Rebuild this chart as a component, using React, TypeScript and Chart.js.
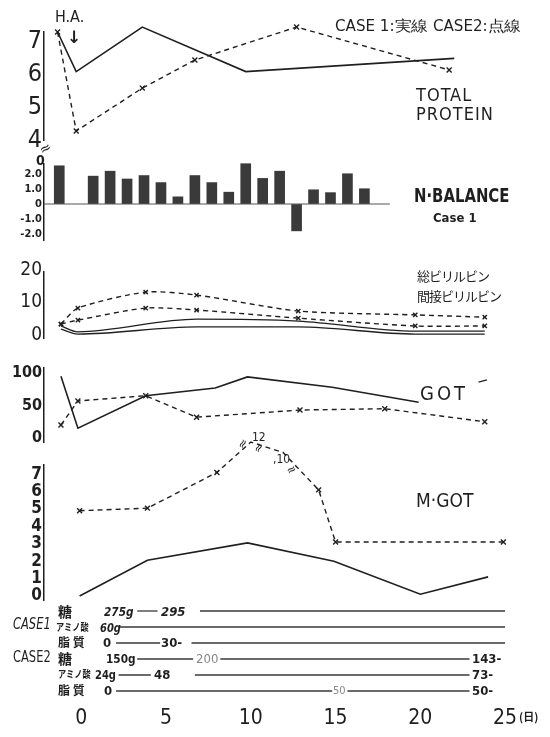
import React, { useEffect, useRef } from "react";
import { Chart, registerables } from "chart.js";
Chart.register(...registerables);

// ---------- shared x axis (days) ----------
const X_MIN = -2.2;
const X_MAX = 27;
const xTicks = [0, 5, 10, 15, 20, 25];

// ---------- TOTAL PROTEIN ----------
const tpDays1 = [-1.4, -0.3, 3.6, 9.7, 22.0];
const tpCase1 = [7.3, 6.1, 7.45, 6.1, 6.5];
const tpDays2 = [-1.4, -0.3, 3.6, 6.7, 12.7, 21.7];
const tpCase2 = [7.3, 4.3, 5.6, 6.45, 7.45, 6.15];
const tpTicks = [4, 5, 6, 7];

// ---------- N-BALANCE (case 1) ----------
const nbDays = [-1.3, 0.7, 1.7, 2.7, 3.7, 4.7, 5.7, 6.7, 7.7, 8.7, 9.7, 10.7, 11.7, 12.7, 13.7, 14.7, 15.7, 16.7];
const nbValues = [2.55, 1.86, 2.19, 1.67, 1.9, 1.43, 0.48, 1.9, 1.43, 0.79, 2.69, 1.71, 2.19, -1.79, 0.95, 0.76, 2.02, 1.02];
const nbTicks = [-2, -1, 0, 1, 2];
const nbZeroLine = [-2.2, 18.2];

// ---------- BILIRUBIN ----------
const biliDays2 = [-1.2, -0.2, 3.8, 6.8, 12.8, 19.7, 23.8];
const biliTotal2 = [3.4, 8.3, 13.2, 12.3, 7.4, 6.2, 5.5];
const biliIndirect2 = [3.4, 4.6, 8.3, 7.7, 5.2, 2.8, 2.8];
const biliDays1 = [-1.2, -0.2, 6.8, 12.8, 19.7, 23.8];
const biliTotal1 = [2.8, 1.0, 4.9, 4.3, 1.2, 1.2];
const biliIndirect1 = [1.8, 0.3, 2.5, 2.5, 0.3, 0.3];
const biliTicks = [0, 10, 20];

// ---------- GOT ----------
const gotDays1 = [-1.2, -0.2, 3.8, 7.9, 9.8, 14.8, 19.9];
const gotCase1 = [95, 15, 65, 77, 94, 78, 55];
const gotDays2 = [-1.2, -0.2, 3.8, 6.8, 12.9, 17.9, 23.8];
const gotCase2 = [20, 57, 65, 32, 43, 45, 25];
const gotTicks = [0, 50, 100];

// ---------- M-GOT ----------
const mgotDays1 = [-0.1, 3.9, 9.8, 14.9, 20.0, 24.0];
const mgotCase1 = [0, 2.05, 3.05, 2.0, 0.1, 1.1];
const mgotDays2 = [-0.1, 3.9, 8.0, 10.0, 11.9, 14.0, 15.0, 24.9];
const mgotCase2 = [4.9, 5.05, 7.1, 12, 10, 6.1, 3.1, 3.1];
const mgotTicks = [0, 1, 2, 3, 4, 5, 6, 7];
const MGOT_BREAK = 7.5; // axis is broken above this value
const MGOT_BREAK_RATIO = 0.3;

// ---------- nutrition (rows, day spans of the drawn lines) ----------
const nutRows = [6, 5, 4, 3, 2, 1];
const nutSpans: number[][][] = [
  [[3.3, 4.5], [7.0, 25]],
  [[2.2, 25]],
  [[2.05, 4.65], [6.5, 25]],
  [[3.3, 6.6], [8.2, 22.9]],
  [[2.2, 4.1], [6.7, 22.9]],
  [[2.05, 14.8], [15.7, 22.9]],
];

const INK = "#1f1f1f";
const NARROW = "'Liberation Sans Narrow','DejaVu Sans Condensed','Liberation Sans',sans-serif";
const SANS = "'DejaVu Sans',sans-serif";
const JP = "'Noto Sans CJK JP',sans-serif";
const W = 550;
const H = 737;

const pts = (xs: number[], ys: number[]) => xs.map((x, i) => ({ x, y: ys[i] }));
const solid = (data: any[], tension = 0) => ({
  type: "line",
  data,
  borderColor: INK,
  borderWidth: 1.6,
  pointRadius: 0,
  tension,
  fill: false,
  clip: false,
});
const dashed = (data: any[], radius: any = 3.5, tension = 0) => ({
  type: "line",
  data,
  borderColor: INK,
  borderWidth: 1.4,
  borderDash: [5, 4],
  pointStyle: "crossRot",
  pointRadius: radius,
  pointBorderWidth: 1.4,
  pointBorderColor: INK,
  pointBackgroundColor: INK,
  tension,
  fill: false,
  clip: false,
});

type Panel = {
  top: number;
  bottom: number;
  yMin: number;
  yMax: number;
  yTicks: number[];
  fmt: (v: number) => string;
  font: any;
  showY: boolean;
  showX?: boolean;
  datasets: any[];
};

function options(p: Panel): any {
  return {
    animation: false,
    responsive: false,
    maintainAspectRatio: false,
    devicePixelRatio: 1,
    events: [],
    layout: { padding: { top: p.top, bottom: p.showX ? 0 : H - p.bottom, left: p.showY ? 0 : 44, right: 11 } },
    plugins: { legend: { display: false }, tooltip: { enabled: false } },
    scales: {
      x: {
        type: "linear",
        min: X_MIN,
        max: X_MAX,
        offset: false,
        display: !!p.showX,
        position: "bottom",
        grid: { display: false, drawTicks: false },
        border: { display: false },
        ticks: {
          font: { size: 21, family: NARROW },
          color: INK,
          padding: 7,
          autoSkip: false,
          maxRotation: 0,
          callback: (v: any) => String(v),
        },
        afterBuildTicks: (s: any) => {
          s.ticks = xTicks.map((v) => ({ value: v }));
        },
        afterFit: (s: any) => {
          if (p.showX) s.height = H - p.bottom;
        },
      },
      y: {
        type: "linear",
        min: p.yMin,
        max: p.yMax,
        display: p.showY,
        position: "left",
        grid: { display: true, drawOnChartArea: false, drawTicks: false, color: "rgba(0,0,0,0)" },
        border: { display: true, color: INK, width: 1.5 },
        ticks: {
          font: p.font,
          color: INK,
          padding: 2,
          autoSkip: false,
          callback: (v: any) => p.fmt(Number(v)),
        },
        afterBuildTicks: (s: any) => {
          s.ticks = p.yTicks.map((v) => ({ value: v }));
        },
        afterFit: (s: any) => {
          if (p.showY) s.width = 44;
        },
      },
    },
  };
}

const mgotShown = (v: number) => (v > MGOT_BREAK ? MGOT_BREAK + (v - MGOT_BREAK) * MGOT_BREAK_RATIO : v);

const panels: Panel[] = [
  {
    top: 32,
    bottom: 140,
    yMin: 7.3 - 108 / 33,
    yMax: 7.3,
    yTicks: tpTicks,
    fmt: (v) => String(v),
    font: { size: 25, family: NARROW },
    showY: true,
    datasets: [solid(pts(tpDays1, tpCase1)), dashed(pts(tpDays2, tpCase2))],
  },
  {
    top: 164,
    bottom: 240,
    yMin: -2.4,
    yMax: 2.67,
    yTicks: nbTicks,
    fmt: (v) => (v === 0 ? "0" : v.toFixed(1)),
    font: { size: 11, family: NARROW, weight: "bold" },
    showY: true,
    datasets: [
      {
        type: "bar",
        data: pts(nbDays, nbValues),
        backgroundColor: "#3a3a3a",
        barThickness: 10,
        clip: false,
      },
      { ...solid(nbZeroLine.map((x) => ({ x, y: 0 }))), borderWidth: 1.2, borderColor: "#555" },
    ],
  },
  {
    top: 272,
    bottom: 338,
    yMin: -0.9,
    yMax: 19.4,
    yTicks: biliTicks,
    fmt: (v) => String(v),
    font: { size: 19, family: NARROW },
    showY: true,
    datasets: [
      dashed(pts(biliDays2, biliTotal2), 3, 0.25),
      dashed(pts(biliDays2, biliIndirect2), 3, 0.25),
      { ...solid(pts(biliDays1, biliTotal1), 0.35), cubicInterpolationMode: "monotone", borderWidth: 1.3 },
      { ...solid(pts(biliDays1, biliIndirect1), 0.35), cubicInterpolationMode: "monotone", borderWidth: 1.3 },
    ],
  },
  {
    top: 368,
    bottom: 442,
    yMin: -6.2,
    yMax: 107.7,
    yTicks: gotTicks,
    fmt: (v) => String(v),
    font: { size: 16, family: NARROW, weight: "bold" },
    showY: true,
    datasets: [solid(pts(gotDays1, gotCase1)), dashed(pts(gotDays2, gotCase2))],
  },
  {
    top: 465,
    bottom: 600,
    yMin: -0.23,
    yMax: 7.53,
    yTicks: mgotTicks,
    fmt: (v) => String(v),
    font: { size: 17, family: NARROW, weight: "bold" },
    showY: true,
    datasets: [
      solid(pts(mgotDays1, mgotCase1)),
      dashed(
        pts(mgotDays2, mgotCase2.map(mgotShown)),
        mgotCase2.map((v) => (v > MGOT_BREAK ? 0 : 3.5))
      ),
    ],
  },
  {
    top: 603,
    bottom: 699,
    yMin: 0.5,
    yMax: 6.5,
    yTicks: nutRows,
    fmt: (v) => String(v),
    font: { size: 10 },
    showY: false,
    showX: true,
    datasets: nutSpans.flatMap((spans, i) =>
      spans.map((sp) => ({
        ...solid(sp.map((x) => ({ x, y: nutRows[i] }))),
        borderWidth: 1.3,
        borderColor: "#3a3a3a",
      }))
    ),
  },
];

type Label = {
  t: string;
  x: number;
  y: number;
  s: number;
  f?: string;
  w?: string | number;
  i?: boolean;
  c?: string;
  ls?: number;
  r?: number;
  sx?: number;
};

const labels: Label[] = [
  { t: "H.A.", x: 55, y: 17, s: 16, f: NARROW },
  { t: "↓", x: 67, y: 37, s: 17, w: "bold", f: SANS },
  { t: "CASE 1:実線 CASE2:点線", x: 335, y: 26, s: 15, f: NARROW, sx: 1.12 },
  { t: "TOTAL", x: 416, y: 95, s: 18, f: NARROW, ls: 1 },
  { t: "PROTEIN", x: 416, y: 114, s: 18, f: NARROW, ls: 1 },
  { t: "≈", x: 40, y: 151, s: 14, f: SANS, r: -30 },
  { t: "0", x: 36, y: 160, s: 14, f: NARROW, w: "bold" },
  { t: "N·BALANCE", x: 414, y: 195, s: 19, f: NARROW, w: "bold", sx: 0.87 },
  { t: "Case 1", x: 433, y: 217, s: 13, f: NARROW, w: "bold" },
  { t: "総ビリルビン", x: 417, y: 275, s: 13, f: JP, ls: -1 },
  { t: "間接ビリルビン", x: 417, y: 295, s: 13, f: JP, ls: -1 },
  { t: "GOT", x: 420, y: 393, s: 20, f: NARROW, ls: 3 },
  { t: "−", x: 477, y: 382, s: 14, f: SANS, r: -15 },
  { t: "12", x: 252, y: 437, s: 12, f: NARROW },
  { t: "≈", x: 240, y: 448, s: 12, f: SANS, r: -60 },
  { t: "≈", x: 256, y: 452, s: 12, f: SANS, r: -60 },
  { t: ",10", x: 273, y: 459, s: 12, f: NARROW },
  { t: "≈", x: 287, y: 472, s: 12, f: SANS, r: -30 },
  { t: "M·GOT", x: 416, y: 500, s: 19, f: NARROW },
  // nutrition table
  { t: "糖", x: 58, y: 611, s: 14, f: JP, w: "bold" },
  { t: "275g", x: 104, y: 611, s: 13, f: NARROW, w: "bold", i: true, sx: 0.9 },
  { t: "295", x: 161, y: 611, s: 13, f: NARROW, w: "bold", i: true },
  { t: "CASE1", x: 13, y: 624, s: 15, f: NARROW, i: true, sx: 0.85 },
  { t: "アミノ酸", x: 56, y: 627, s: 10, f: JP, w: "bold", sx: 0.82 },
  { t: "60g", x: 100, y: 627, s: 13, f: NARROW, w: "bold", i: true, sx: 0.85 },
  { t: "脂 質", x: 58, y: 642, s: 12, f: JP, w: "bold" },
  { t: "0", x: 103, y: 642, s: 13, f: NARROW, w: "bold" },
  { t: "30-", x: 161, y: 642, s: 13, f: NARROW, w: "bold" },
  { t: "CASE2", x: 13, y: 657, s: 15, f: NARROW, sx: 0.85 },
  { t: "糖", x: 58, y: 658, s: 14, f: JP, w: "bold" },
  { t: "150g", x: 106, y: 658, s: 13, f: NARROW, w: "bold", sx: 0.9 },
  { t: "200", x: 196, y: 658, s: 13, f: NARROW, c: "#888" },
  { t: "143-", x: 472, y: 658, s: 13, f: NARROW, w: "bold" },
  { t: "アミノ酸", x: 58, y: 674, s: 10, f: JP, w: "bold", sx: 0.82 },
  { t: "24g", x: 95, y: 674, s: 13, f: NARROW, w: "bold", sx: 0.85 },
  { t: "48", x: 154, y: 674, s: 13, f: NARROW, w: "bold" },
  { t: "73-", x: 472, y: 674, s: 13, f: NARROW, w: "bold" },
  { t: "脂 質", x: 58, y: 690, s: 12, f: JP, w: "bold" },
  { t: "0", x: 104, y: 690, s: 13, f: NARROW, w: "bold" },
  { t: "50", x: 333, y: 690, s: 11, f: NARROW, c: "#888" },
  { t: "50-", x: 472, y: 690, s: 13, f: NARROW, w: "bold" },
  { t: "(日)", x: 519, y: 716, s: 11, f: JP, w: "bold" },
];

export default function App() {
  const refs = useRef<(HTMLCanvasElement | null)[]>([]);

  useEffect(() => {
    document.body.style.margin = "0";
    const charts = panels.map((p, i) => {
      const canvas = refs.current[i]!;
      return new Chart(canvas, {
        type: "line",
        data: { datasets: p.datasets },
        options: options(p),
      } as any);
    });
    return () => charts.forEach((c) => c.destroy());
  }, []);

  return (
    <div style={{ position: "relative", width: W, height: H, background: "#fff", overflow: "hidden" }}>
      {panels.map((_, i) => (
        <canvas
          key={i}
          ref={(el) => {
            refs.current[i] = el;
          }}
          width={W}
          height={H}
          style={{ position: "absolute", left: 0, top: 0, width: W, height: H }}
        />
      ))}
      {labels.map((l, i) => (
        <span
          key={i}
          style={{
            position: "absolute",
            left: l.x,
            top: l.y,
            transformOrigin: "left center",
            transform: `translateY(-50%)${l.sx ? ` scaleX(${l.sx})` : ""}${l.r ? ` rotate(${l.r}deg)` : ""}`,
            fontSize: l.s,
            fontFamily: l.f || NARROW,
            fontWeight: (l.w as any) || "normal",
            fontStyle: l.i ? "italic" : "normal",
            color: l.c || INK,
            letterSpacing: l.ls ? `${l.ls}px` : undefined,
            whiteSpace: "nowrap",
            lineHeight: 1,
          }}
        >
          {l.t}
        </span>
      ))}
    </div>
  );
}
